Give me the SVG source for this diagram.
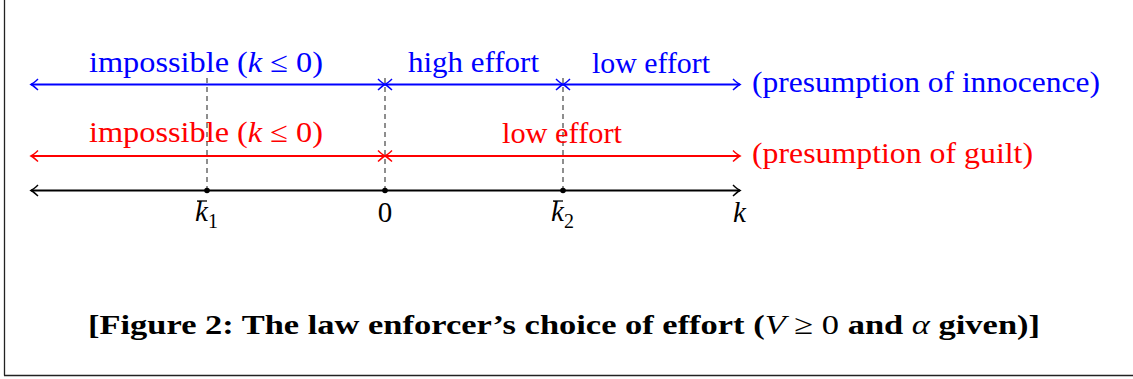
<svg xmlns="http://www.w3.org/2000/svg" width="1133" height="379" viewBox="0 0 1133 379">
<style>
.t{font-family:'Liberation Serif','Times New Roman',serif;font-size:29px}
.b{fill:#0000ff}.r{fill:#ff0000}.k{fill:#000}
.cap{font-family:'Liberation Serif','Times New Roman',serif;font-size:28px;font-weight:bold}
.ln{stroke-width:1.9;fill:none}
.dash{stroke:#444;stroke-width:1.2;stroke-dasharray:5,4;fill:none}
</style>
<defs>
<marker id="ab" viewBox="-9 -7 11 14" markerWidth="11" markerHeight="14" refX="0" refY="0" orient="auto-start-reverse" markerUnits="userSpaceOnUse">
<path d="M-7,-5.5 Q-2.5,-1.3 0,0 Q-2.5,1.3 -7,5.5" stroke="#0000ff" stroke-width="1.5" fill="none"/>
</marker>
<marker id="ar" viewBox="-9 -7 11 14" markerWidth="11" markerHeight="14" refX="0" refY="0" orient="auto-start-reverse" markerUnits="userSpaceOnUse">
<path d="M-7,-5.5 Q-2.5,-1.3 0,0 Q-2.5,1.3 -7,5.5" stroke="#ff0000" stroke-width="1.5" fill="none"/>
</marker>
<marker id="ak" viewBox="-9 -7 11 14" markerWidth="11" markerHeight="14" refX="0" refY="0" orient="auto-start-reverse" markerUnits="userSpaceOnUse">
<path d="M-7,-5.5 Q-2.5,-1.3 0,0 Q-2.5,1.3 -7,5.5" stroke="#000" stroke-width="1.5" fill="none"/>
</marker>
</defs>
<rect width="1133" height="379" fill="#fff"/>
<g id="frame" stroke="#222" stroke-width="1.3" fill="none">
<line x1="4.5" y1="0" x2="4.5" y2="375.5"/>
<line x1="4" y1="375.5" x2="1133" y2="375.5"/>
</g>
<g id="connectors">
<line class="dash" x1="207" y1="78" x2="207" y2="190"/>
<line class="dash" x1="385" y1="78" x2="385" y2="190"/>
<line class="dash" x1="563" y1="78" x2="563" y2="190"/>
<line class="ln" stroke="#0000ff" x1="31" y1="84.5" x2="385" y2="84.5" marker-start="url(#ab)" marker-end="url(#ab)"/>
<line class="ln" stroke="#0000ff" x1="385" y1="84.5" x2="563" y2="84.5" marker-start="url(#ab)" marker-end="url(#ab)"/>
<line class="ln" stroke="#0000ff" x1="563" y1="84.5" x2="740" y2="84.5" marker-start="url(#ab)" marker-end="url(#ab)"/>
<line class="ln" stroke="#ff0000" x1="31" y1="156" x2="385" y2="156" marker-start="url(#ar)" marker-end="url(#ar)"/>
<line class="ln" stroke="#ff0000" x1="385" y1="156" x2="740" y2="156" marker-start="url(#ar)" marker-end="url(#ar)"/>
<line class="ln" stroke="#000" x1="31" y1="190.5" x2="740" y2="190.5" marker-start="url(#ak)" marker-end="url(#ak)"/>
</g>
<g id="points" fill="#000">
<circle cx="207" cy="190.5" r="2.8"/>
<circle cx="385" cy="190.5" r="2.8"/>
<circle cx="563" cy="190.5" r="2.8"/>
</g>
<g id="blue-labels">
<text class="t b" x="89" y="72" textLength="234" lengthAdjust="spacingAndGlyphs">impossible (<tspan font-style="italic">k</tspan> ≤ 0)</text>
<text class="t b" x="408" y="72" textLength="131" lengthAdjust="spacingAndGlyphs">high effort</text>
<text class="t b" x="592" y="73" textLength="118" lengthAdjust="spacingAndGlyphs">low effort</text>
<text class="t b" x="752" y="92" textLength="348" lengthAdjust="spacingAndGlyphs">(presumption of innocence)</text>
</g>
<g id="red-labels">
<text class="t r" x="89" y="142" textLength="234" lengthAdjust="spacingAndGlyphs">impossible (<tspan font-style="italic">k</tspan> ≤ 0)</text>
<text class="t r" x="502" y="143" textLength="120" lengthAdjust="spacingAndGlyphs">low effort</text>
<text class="t r" x="752" y="163" textLength="281" lengthAdjust="spacingAndGlyphs">(presumption of guilt)</text>
</g>
<g id="axis-labels">
<text class="t k" x="195" y="221" font-style="italic">k</text>
<line x1="197" y1="201" x2="207" y2="201" stroke="#000" stroke-width="1.3"/>
<text class="k" x="208" y="228" font-family="'Liberation Serif', serif" font-size="20">1</text>
<text class="t k" x="385" y="222" text-anchor="middle">0</text>
<text class="t k" x="551" y="221" font-style="italic">k</text>
<line x1="553" y1="201" x2="563" y2="201" stroke="#000" stroke-width="1.3"/>
<text class="k" x="564" y="228" font-family="'Liberation Serif', serif" font-size="20">2</text>
<text class="t k" x="733" y="222" font-style="italic">k</text>
</g>
<g id="caption">
<text class="cap" x="88" y="334" textLength="952" lengthAdjust="spacingAndGlyphs">[Figure 2: The law enforcer’s choice of effort (<tspan font-style="italic" font-weight="normal">V</tspan> <tspan font-weight="normal">≥ 0</tspan> and <tspan font-style="italic" font-weight="normal">α</tspan> given)]</text>
</g>
</svg>
